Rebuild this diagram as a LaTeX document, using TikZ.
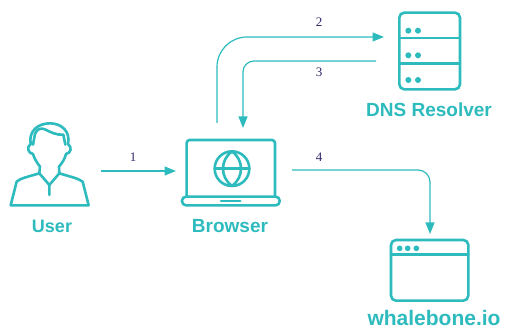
\documentclass[tikz,border=0pt]{standalone}
\usepackage{fontspec}
\setmainfont{Liberation Serif}
\newfontfamily\labelfont{Liberation Sans}[BoldFont={Liberation Sans Bold}]
\usetikzlibrary{arrows.meta}
\definecolor{teal1}{HTML}{2DBBBE}
\definecolor{ink}{HTML}{2F2A6B}
\tikzset{
  x=1pt,y=1pt,
  icon/.style={draw=teal1,line width=2.6pt,line join=round,line cap=round},
  conn/.style={draw=teal1,line width=1.2pt,-{Triangle[length=11.5pt,width=9pt]}},
  num/.style={text=ink,font=\fontsize{13}{13}\selectfont,inner sep=0pt},
  lab/.style={text=teal1,inner sep=0pt,font=\labelfont\bfseries\fontsize{#1}{#1}\selectfont},
  zoomed/.style 2 args={shift={(#1,329-#2)},x=0.3333pt,y=-0.3333pt},
}
\begin{document}
\begin{tikzpicture}
\useasboundingbox (0,0) rectangle (505,329);
\fill[white] (0,0) rectangle (505,329);
% named end points
\coordinate (userR) at (101,158);
\coordinate (browserL) at (176,158);
\coordinate (browserTa) at (217,206);
\coordinate (browserTb) at (243,201);
\coordinate (browserR) at (292,159);
\coordinate (dnsLa) at (384,292);
\coordinate (dnsLb) at (376,268);
\coordinate (webT) at (430,95);
% user
\begin{scope}[zoomed={0}{110}]
\path[icon,fill=none] (32,286) -- (266,286)
  (32,286) -- (50,215) .. controls (60,205) and (85,200) .. (118,190)
  -- (120,170) .. controls (108,155) and (102,142) .. (99,132)
  .. controls (85,130) and (78,112) .. (92,102)
  .. controls (85,62) and (115,40) .. (150,40)
  .. controls (185,40) and (212,65) .. (204,102)
  .. controls (218,112) and (212,130) .. (198,132)
  .. controls (195,145) and (188,157) .. (177,170)
  -- (178,190) .. controls (210,200) and (235,205) .. (248,215) -- (266,286);
\path[icon] (99,104) -- (105,72) .. controls (110,58) and (122,52) .. (135,58)
  .. controls (150,66) and (170,76) .. (190,74) -- (196,104);
\path[icon] (118,190) -- (148,225) -- (178,190) (148,225) -- (148,255);
\end{scope}
% browser
\begin{scope}[zoomed={170}{130}]
\draw[icon,rounded corners=3pt] (50,200) -- (50,30) -- (315,30) -- (315,200);
\draw[icon,rounded corners=4pt] (36,200) -- (36,226) -- (329,226) -- (329,200) -- cycle;
\draw[icon] (153,213) -- (211,213);
\draw[icon] (186,116) circle[radius=52];
\draw[icon] (186,64) .. controls (150,90) and (150,142) .. (186,168);
\draw[icon] (186,64) .. controls (222,90) and (222,142) .. (186,168);
\draw[icon] (135,116) -- (238,116);
\end{scope}
% dns
\begin{scope}[zoomed={360}{0}]
\draw[icon,rounded corners=5pt] (118,38) rectangle (300,268);
\draw[icon] (118,114) -- (300,114) (118,190) -- (300,190);
\foreach \yy in {92,166,240}\foreach \xx in {145,174}
  \fill[teal1] (\xx,\yy) circle[radius=9];
\end{scope}
% website
\begin{scope}[zoomed={360}{230}]
\draw[icon,rounded corners=5pt] (93,30) rectangle (325,212);
\draw[icon] (93,73) -- (325,73);
\foreach \xx in {119,143,169}
  \fill[teal1] (\xx,55) circle[radius=8.5];
\end{scope}
% labels
\node[lab=18] (userlab) at (52,103) {User};
\node[lab=19] (browserlab) at (230,103) {Browser};
\node[lab=19] (dnslab) at (429,219) {DNS Resolver};
\node[lab=21] (weblab) at (434,11.5) {whalebone.io};
% connectors
\draw[conn] (userR) -- (browserL);
\draw[conn] (browserTa) -- ++(0,56) arc[start angle=180,end angle=90,radius=30] -- (dnsLa);
\draw[conn] (dnsLb) -- (254,268) arc[start angle=90,end angle=180,radius=11] -- (browserTb);
\draw[conn] (browserR) -- (418,159) arc[start angle=90,end angle=0,radius=12] -- (webT);
% numbers
\node[num] (n1) at (133,172) {1};
\node[num] (n2) at (319,307) {2};
\node[num] (n3) at (319,257) {3};
\node[num] (n4) at (319,172) {4};
\end{tikzpicture}
\end{document}
